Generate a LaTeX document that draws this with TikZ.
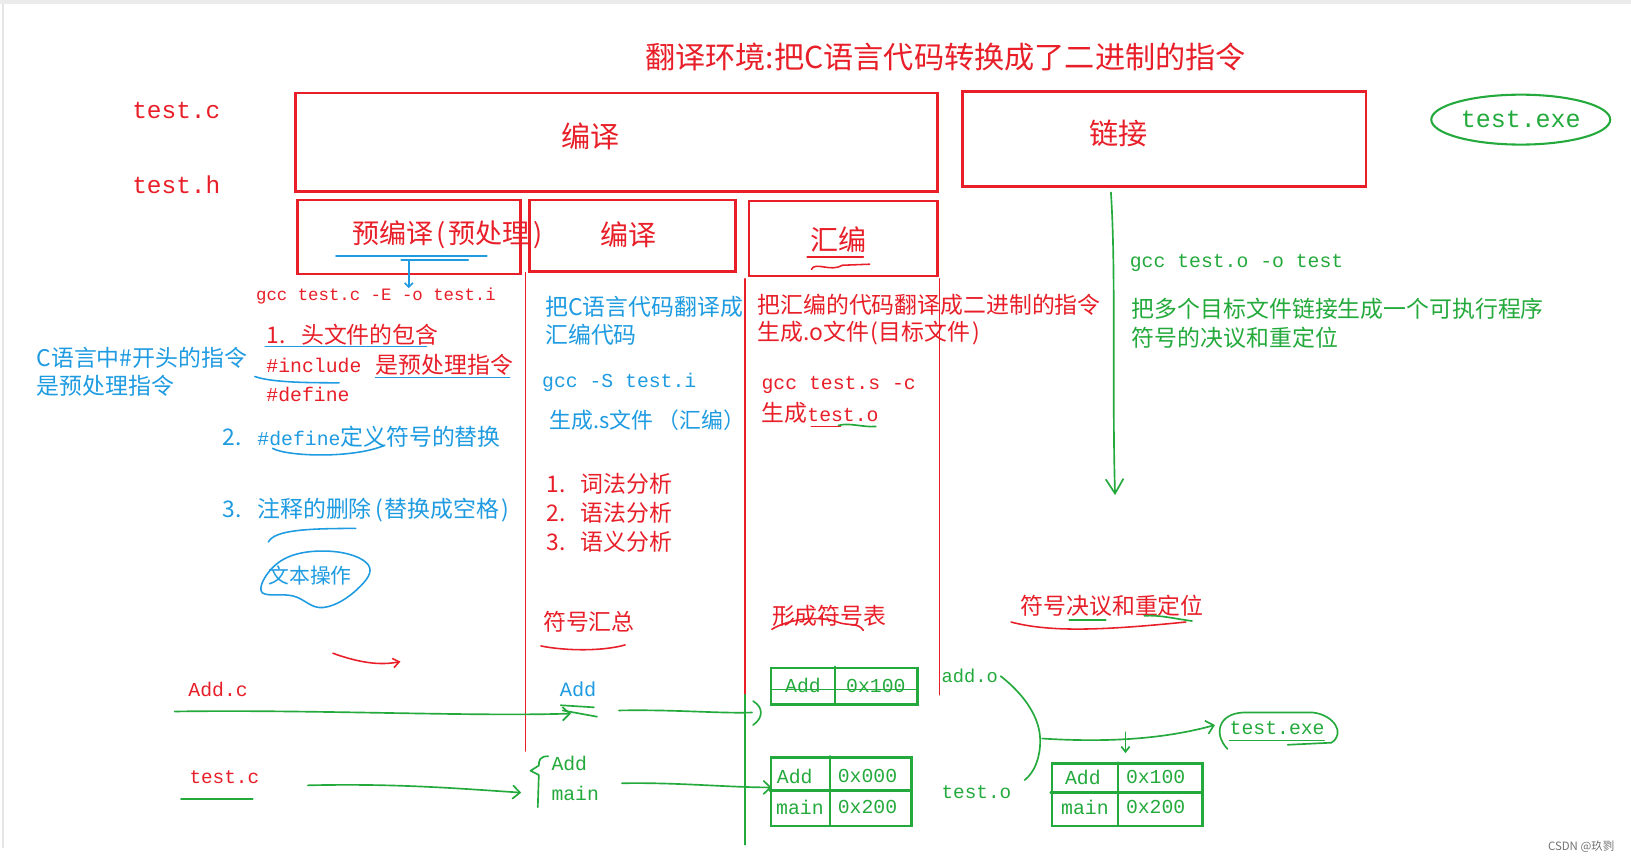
\documentclass[tikz,border=0pt]{standalone}
\usepackage{fontspec}
\newfontfamily\cjk{Noto Sans CJK SC}
\setmonofont{Liberation Mono}
\usetikzlibrary{arrows.meta,shapes.geometric}
\definecolor{myred}{RGB}{232,30,40}
\definecolor{myblue}{RGB}{30,155,225}
\definecolor{mygreen}{RGB}{36,170,60}
\newcommand{\fsz}[1]{\fontsize{#1}{#1}\selectfont}
\tikzset{
  redbox/.style={draw=myred,line width=2.4pt,inner sep=0pt,anchor=north west},
  grnbox/.style={draw=mygreen,line width=2.4pt,inner sep=0pt,anchor=north west},
  txt/.style={inner sep=0pt,anchor=west},
  rt/.style={txt,text=myred},
  bt/.style={txt,text=myblue},
  gt/.style={txt,text=mygreen},
  zh/.style={font=\cjk\fsz{#1}},
  mono/.style={font=\ttfamily\fsz{#1}},
  rln/.style={draw=myred,line width=1.5pt,line cap=round},
  gln/.style={draw=mygreen,line width=1.6pt,line cap=round,line join=round},
  bln/.style={draw=myblue,line width=1.5pt,line cap=round},
  barb/.style={-{Straight Barb[length=7pt,width=13pt]}},
}
\begin{document}
\begin{tikzpicture}[x=1pt,y=-1pt]
\useasboundingbox (0,0) rectangle (1568,828);
\fill[white] (0,0) rectangle (1568,828);
\fill[black!8] (0,0) rectangle (1568,4);
\draw[black!10,line width=1.5pt] (3,4)--(3,815);

% title
\node[rt,zh=29] (title) at (620,55) {翻译环境:把C语言代码转换成了二进制的指令};
\node[rt,mono=23.5] (srcc) at (127,106) {test.c};
\node[rt,mono=23.5] (srch) at (127,178) {test.h};

% big boxes
\node[redbox,minimum width=617pt,minimum height=95pt] (bigbox) at (283,88) {};
\node[rt,zh=28,anchor=center] (bigl) at (568,131) {编译};
\node[redbox,minimum width=388pt,minimum height=91pt] (linkbox) at (924,87) {};
\node[rt,zh=28,anchor=center] (linkl) at (1075,128) {链接};
\node[draw=mygreen,line width=2pt,ellipse,minimum width=172pt,minimum height=48pt,
      text=mygreen,mono=24,inner sep=0pt] (exe) at (1462,115) {test.exe};

% sub boxes
\node[redbox,minimum width=214pt,minimum height=71pt] (prebox) at (285,191) {};
\node[rt,zh=26,anchor=center] (prel) at (430,226) {预编译\hspace{3pt}(\hspace{3pt}预处理\hspace{3pt})};
\node[redbox,minimum width=198pt,minimum height=69pt] (compbox) at (508,191) {};
\node[rt,zh=27,anchor=center] (compl) at (604,226) {编译};
\node[redbox,minimum width=181pt,minimum height=72pt] (asmbox) at (719,192) {};
\node[rt,zh=27,anchor=center] (asml) at (806,230) {汇编};

% preprocessing column
\draw[bln] (323,246)--(468,246);
\draw[bln,line width=2.2pt] (386,250)--(450,250);
\coordinate (preA) at (393,250);
\node[rt,mono=16.7] (gcc1) at (246,285) {gcc test.c -E -o test.i};
\draw[bln,-{Straight Barb[length=4pt,width=8pt]}] (preA)--(preA |- gcc1.north);

\node[bt,zh=22] (cdir1) at (35,344) {C语言中\#开头的指令};
\node[bt,zh=22] (cdir2) at (35,371) {是预处理指令};

\node[rt,zh=22] (p1) at (256,322) {1.\hspace{15pt}头文件的包含};
\draw[bln] (255,333)--(410,333);
\node[rt,mono=19] (inc) at (256,351) {\#include};
\node[rt,zh=22] (isdir) at (361,351) {是预处理指令};
\draw[bln] (361,363)--(490,363);
\draw[bln] (245,362) .. controls (262,368) and (300,368) .. (326,368);
\node[rt,mono=19] (def) at (256,379) {\#define};

\node[bt,zh=22] (p2) at (214,420) {2.\hspace{15pt}{\ttfamily\fsz{19}\#define}定义符号的替换};
\draw[bln] (262,431) .. controls (276,439) and (340,441) .. (370,428);
\node[bt,zh=22] (p3) at (214,490) {3.\hspace{15pt}注释的删除\hspace{3pt}(\hspace{2pt}替换成空格\hspace{2pt})};
\draw[bln] (258,521) .. controls (264,510) and (292,508) .. (342,508);
\node[bt,zh=20] (textop) at (258,553) {文本操作};
\draw[bln] plot[smooth cycle,tension=0.7] coordinates {(251,568) (272,538) (318,530) (354,543) (344,566) (311,584) (282,573)};
\draw[rln,-{Straight Barb[length=6pt,width=9pt]}] (320,628) .. controls (345,637) and (365,640) .. (385,636);

% column separators
\draw[rln] (505,262)--(505,722);
\draw[rln] (716,268)--(716,668);
\draw[rln] (903,268)--(903,668);
\draw[gln] (716,668)--(716,812);

% compile column
\node[bt,zh=22] (c1) at (524,295) {把C语言代码翻译成};
\node[bt,zh=22] (c2) at (524,322) {汇编代码};
\node[bt,mono=19] (gcc2) at (521,368) {gcc -S test.i};
\node[bt,zh=21] (c3) at (528,404) {生成.s文件 （汇编）};
\node[rt,zh=22] (a1) at (525,465) {1.\hspace{15pt}词法分析};
\node[rt,zh=22] (a2) at (525,493) {2.\hspace{15pt}语法分析};
\node[rt,zh=22] (a3) at (525,521) {3.\hspace{15pt}语义分析};
\node[rt,zh=22] (symsum) at (522,598) {符号汇总};
\draw[rln] (520,621) .. controls (545,626) and (580,626) .. (601,620);

% assemble column
\draw[rln] (776,247)--(830,247);
\draw[rln] (780,259) .. controls (784,251) and (798,262) .. (810,255) -- (836,254);
\node[rt,zh=22] (s1) at (728,293) {把汇编的代码翻译成二进制的指令};
\node[rt,zh=22] (s2) at (728,320) {生成.o文件\hspace{2pt}(目标文件\hspace{2pt})};
\node[rt,mono=19] (gcc3) at (732,370) {gcc test.s -c};
\node[rt,zh=22] (s3) at (732,397) {生成{\ttfamily\fsz{19}test.o}};
\draw[rln] (780,410)--(808,410);
\draw[gln] (806,409) .. controls (816,406) and (830,411) .. (842,410);
\node[rt,zh=22] (symtab) at (742,592) {形成符号表};
\draw[rln] (742,605) .. controls (760,594) and (790,592) .. (805,598) .. controls (815,602) and (825,598) .. (830,606);

% link column
\coordinate (lk0) at (1068,185);
\coordinate (lk1) at (1072,476);
\draw[gln,-{Straight Barb[length=14pt,width=17pt]}] (lk0) .. controls (1073,260) and (1069,380) .. (lk1);
\node[gt,mono=19] (gcc4) at (1086,253) {gcc test.o -o test};
\node[gt,zh=22] (l1) at (1088,297) {把多个目标文件链接生成一个可执行程序};
\node[gt,zh=22] (l2) at (1088,325) {符号的决议和重定位};
\node[rt,zh=22] (resolve) at (981,582) {符号决议和重定位};
\draw[rln] (972,598) .. controls (1010,608) and (1060,606) .. (1140,598);
\draw[gln] (1028,596)--(1063,596);
\draw[gln] (1100,592) .. controls (1115,591) and (1130,595) .. (1146,597);

% bottom: files
\node[rt,mono=19] (addc) at (181,663) {Add.c};
\node[bt,mono=19.5] (addsym) at (538,663) {Add};
\coordinate (ad0) at (168,684);
\coordinate (ad1) at (549,686);
\draw[gln,barb] (ad0) .. controls (300,682) and (450,689) .. (ad1);
\draw[gln] (539,678)--(571,680);
\draw[gln] (541,683)--(574,689);
\coordinate (ad2) at (595,683);
\coordinate (ad3) at (723,685);
\draw[gln] (ad2) .. controls (650,682) and (690,686) .. (ad3);
\draw[gln] (724,674) .. controls (734,680) and (734,690) .. (724,697);

\node[rt,mono=18.6] (testc2) at (182,747) {test.c};
\draw[gln] (174,768)--(243,768);
\coordinate (tc0) at (296,755);
\coordinate (tc1) at (501,762);
\draw[gln,barb] (tc0) .. controls (380,753) and (440,758) .. (tc1);
\draw[gln] (527,727) .. controls (519,727) and (518,731) .. (518,736) -- (510,741) -- (518,745) -- (517,776);
\node[gt,mono=19] (sadd) at (530,734) {Add};
\node[gt,mono=19] (smain) at (530,763) {main};
\coordinate (mn0) at (598,753);
\coordinate (mn1) at (742,757);
\draw[gln,barb] (mn0) .. controls (650,752) and (700,757) .. (mn1);

% table 1 (add.o)
\node[grnbox,minimum width=141pt,minimum height=35pt] (t1) at (740,641) {};
\draw[gln,line width=2.2pt] (803,641)--(803,676);
\draw[gln] (742,663)--(880,663);
\node[gt,mono=19,anchor=center] (t1a) at (772,659) {Add};
\node[gt,mono=19,anchor=center] (t1b) at (842,659) {0x100};

% table 2 (test.o)
\node[grnbox,minimum width=135pt,minimum height=66pt] (t2) at (740,727) {};
\draw[gln,line width=2.2pt] (798,727)--(798,793);
\draw[gln,line width=2.2pt] (740,760)--(875,760);
\node[gt,mono=19,anchor=center] (t2a) at (764,746) {Add};
\node[gt,mono=19,anchor=center] (t2b) at (834,746) {0x000};
\node[gt,mono=19,anchor=center] (t2c) at (769,776) {main};
\node[gt,mono=19,anchor=center] (t2d) at (834,776) {0x200};

\node[gt,mono=18] (addo) at (905,650) {add.o};
\node[gt,mono=18.6] (testo) at (905,762) {test.o};
\draw[gln] (962,650) .. controls (985,668) and (1000,690) .. (1000,712) .. controls (1000,728) and (995,742) .. (985,750);

% merged table
\coordinate (mg0) at (1002,710);
\coordinate (mg1) at (1168,697);
\draw[gln,barb] (mg0) .. controls (1050,713) and (1110,713) .. (mg1);
\draw[gln,-{Straight Barb[length=5pt,width=8pt]}] (1082,704)--(1082,724);
\node[grnbox,minimum width=145pt,minimum height=60pt] (t3) at (1010,733) {};
\draw[gln,line width=2.2pt] (1075,733)--(1075,793);
\draw[gln,line width=2.2pt] (1010,762)--(1155,762);
\node[gt,mono=19,anchor=center] (t3a) at (1041,747) {Add};
\node[gt,mono=19,anchor=center] (t3b) at (1111,747) {0x100};
\node[gt,mono=19,anchor=center] (t3c) at (1043,776) {main};
\node[gt,mono=19,anchor=center] (t3d) at (1111,776) {0x200};

\node[gt,mono=19] (exe2) at (1182,700) {test.exe};
\draw[gln] (1182,712)--(1273,712);
\draw[gln] (1180,720) .. controls (1166,705) and (1172,686) .. (1195,685) -- (1262,685) .. controls (1282,687) and (1294,705) .. (1280,714) -- (1238,716);

% watermark
\node[txt,text=black!55,font=\cjk\fsz{11}] (csdn) at (1488,814) {CSDN @玖剹};
\end{tikzpicture}
\end{document}
